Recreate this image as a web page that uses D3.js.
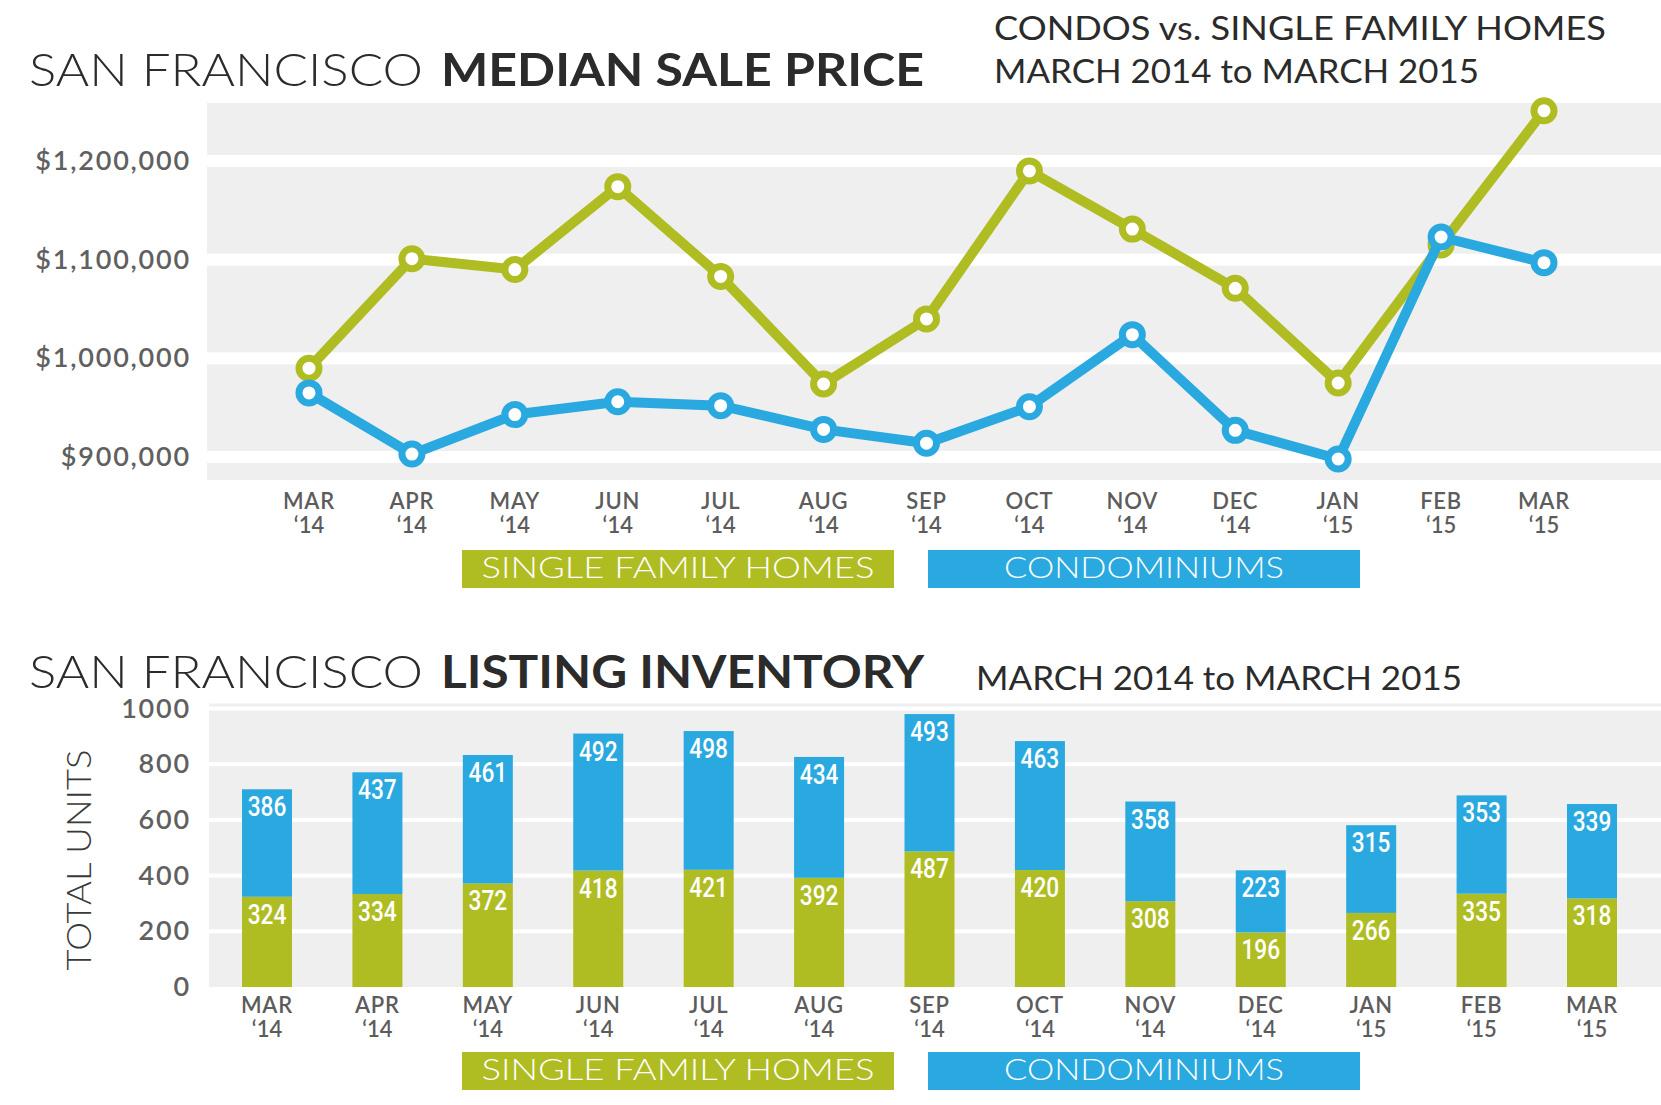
<!DOCTYPE html>
<html><head><meta charset="utf-8">
<script src="https://cdn.jsdelivr.net/npm/d3@7"></script>
<style>body{margin:0;background:#fff}svg{display:block}</style>
</head><body>
<svg id="c" width="1661" height="1105"></svg>
<script>
// ---- data ----
const months = ["MAR","APR","MAY","JUN","JUL","AUG","SEP","OCT","NOV","DEC","JAN","FEB","MAR"];
const years  = ["‘14","‘14","‘14","‘14","‘14","‘14","‘14","‘14","‘14","‘14","‘15","‘15","‘15"];
const sfhPrice   = [990000,1101000,1090000,1174000,1083000,974000,1040000,1190000,1131000,1071000,975000,1115000,1251000];
const condoPrice = [965000,903000,943000,956000,952000,928000,914000,951000,1024000,927000,898000,1123000,1097000];
const priceTicks = [900000,1000000,1100000,1200000];
const sfhUnits   = [324,334,372,418,421,392,487,420,308,196,266,335,318];
const condoUnits = [386,437,461,492,498,434,493,463,358,223,315,353,339];
const unitTicks  = [0,200,400,600,800,1000];
const seriesNames = ["SINGLE FAMILY HOMES","CONDOMINIUMS"];

// ---- style ----
const GREEN = "#AFBD22", BLUE = "#29A9DF", PANEL = "#EFEFEF";
const FONT = "Lato, 'Open Sans', sans-serif";
const svg = d3.select("#c");
const idx = d3.range(months.length);

function title(y, light, bold, subs){
  const t = svg.append("text").attr("y", y).attr("font-family", FONT).attr("font-size", 46).attr("fill", "#2b2b2b");
  t.append("tspan").attr("x", 29).attr("font-weight", 300).attr("textLength", 394).attr("lengthAdjust","spacingAndGlyphs").text(light);
  t.append("tspan").attr("x", 441).attr("font-weight", 700).attr("textLength", 483).attr("lengthAdjust","spacingAndGlyphs").text(bold);
  subs.forEach(s => {
    svg.append("text").attr("x", s.x).attr("y", s.y).attr("font-family", FONT).attr("font-size", 32)
      .attr("font-weight", 400).attr("fill", "#2b2b2b").attr("textLength", s.w).attr("lengthAdjust","spacingAndGlyphs").text(s.t);
  });
}

function legend(y){
  const boxes = [{x:462,w:432,c:GREEN,t:seriesNames[0],tw:393},{x:928,w:432,c:BLUE,t:seriesNames[1],tw:280}];
  boxes.forEach(b => {
    svg.append("rect").attr("x", b.x).attr("y", y).attr("width", b.w).attr("height", 38).attr("fill", b.c);
    svg.append("text").attr("x", b.x + b.w/2).attr("y", y + 28).attr("text-anchor","middle")
      .attr("font-family", FONT).attr("font-weight", 300).attr("font-size", 29).attr("fill", "#fff")
      .attr("textLength", b.tw).attr("lengthAdjust","spacingAndGlyphs").text(b.t);
  });
}

function xLabels(x, y){
  const g = svg.append("g").attr("font-family", FONT).attr("font-weight", 600).attr("font-size", 22)
    .attr("fill", "#5c5c5c").attr("text-anchor", "middle");
  idx.forEach(i => {
    g.append("text").attr("x", x(i)).attr("y", y).attr("letter-spacing", 0.8).text(months[i]);
    g.append("text").attr("x", x(i)).attr("y", y + 24).text(years[i]);
  });
}

// ================= TOP: median sale price =================
title(86, "SAN FRANCISCO", "MEDIAN SALE PRICE",
  [{x:994,y:40,w:612,t:"CONDOS vs. SINGLE FAMILY HOMES"},{x:994,y:83,w:485,t:"MARCH 2014 to MARCH 2015"}]);

const x1 = d3.scalePoint().domain(idx).range([309, 1544]);
const y1 = d3.scaleLinear().domain([876700, 1258800]).range([480, 103]);

svg.append("rect").attr("x", 207).attr("y", y1(1258800)).attr("width", 1661-207)
  .attr("height", y1(876700) - y1(1258800)).attr("fill", PANEL);
svg.append("g").selectAll("rect").data(priceTicks).join("rect")
  .attr("x", 207).attr("width", 1661-207).attr("y", d => y1(d) - 6).attr("height", 12).attr("fill", "#fff");

const ya1 = svg.append("g").attr("transform", "translate(191,0)")
  .call(d3.axisLeft(y1).tickValues(priceTicks).tickFormat(d3.format("$,")).tickSize(0).tickPadding(0));
ya1.select(".domain").remove();
ya1.selectAll("text").attr("font-family", FONT).attr("font-weight", 600).attr("font-size", 27)
  .attr("fill", "#606060").attr("letter-spacing", 1.8);

const line = d3.line().x((d,i) => x1(i)).y(d => y1(d));
[[sfhPrice, GREEN],[condoPrice, BLUE]].forEach(([vals, col]) => {
  svg.append("path").datum(vals).attr("d", line).attr("fill","none").attr("stroke", col)
    .attr("stroke-width", 10).attr("stroke-linejoin","round");
  svg.append("g").selectAll("circle").data(vals).join("circle")
    .attr("cx", (d,i) => x1(i)).attr("cy", d => y1(d)).attr("r", 10)
    .attr("fill", "#fff").attr("stroke", col).attr("stroke-width", 7);
});

xLabels(x1, 509);
legend(550);

// ================= BOTTOM: listing inventory =================
title(688, "SAN FRANCISCO", "LISTING INVENTORY",
  [{x:976,y:690,w:486,t:"MARCH 2014 to MARCH 2015"}]);

const x2 = d3.scalePoint().domain(idx).range([267, 1592]);
const y2 = d3.scaleLinear().domain([0, 1000]).range([987, 708.5]);
const BW = 50;

svg.append("rect").attr("x", 209).attr("y", y2(1018)).attr("width", 1661-209)
  .attr("height", y2(0) - y2(1018)).attr("fill", PANEL);
svg.append("g").selectAll("rect").data(unitTicks.filter(d => d > 0)).join("rect")
  .attr("x", 209).attr("width", 1661-209).attr("y", d => y2(d) - 2).attr("height", 4).attr("fill", "#fff");

const ya2 = svg.append("g").attr("transform", "translate(191,0)")
  .call(d3.axisLeft(y2).tickValues(unitTicks).tickFormat(d3.format("d")).tickSize(0).tickPadding(0));
ya2.select(".domain").remove();
ya2.selectAll("text").attr("font-family", FONT).attr("font-weight", 600).attr("font-size", 27)
  .attr("fill", "#606060").attr("letter-spacing", 1.8);

svg.append("text").attr("transform", "translate(91,860) rotate(-90)").attr("text-anchor","middle")
  .attr("font-family", FONT).attr("font-weight", 300).attr("font-size", 33).attr("fill", "#3a3a3a")
  .attr("textLength", 221).attr("lengthAdjust","spacingAndGlyphs").text("TOTAL UNITS");

const stacks = d3.stack().keys([0,1]).value((i, k) => k === 0 ? sfhUnits[i] : condoUnits[i])(idx);
const cols = [GREEN, BLUE];
stacks.forEach((layer, k) => {
  const g = svg.append("g");
  g.selectAll("rect").data(layer).join("rect")
    .attr("x", (d,i) => x2(i) - BW/2).attr("width", BW)
    .attr("y", d => y2(d[1])).attr("height", d => y2(d[0]) - y2(d[1])).attr("fill", cols[k]);
  g.selectAll("text").data(layer).join("text")
    .attr("transform", (d,i) => `translate(${x2(i)},${y2(d[1]) + 27}) scale(0.84,1)`)
    .attr("text-anchor","middle").attr("font-family","Roboto, sans-serif").attr("font-weight", 500)
    .attr("font-size", 27).attr("fill", "#fff")
    .text(d => d[1] - d[0]);
});

xLabels(x2, 1013);
legend(1052);
</script>
</body></html>
